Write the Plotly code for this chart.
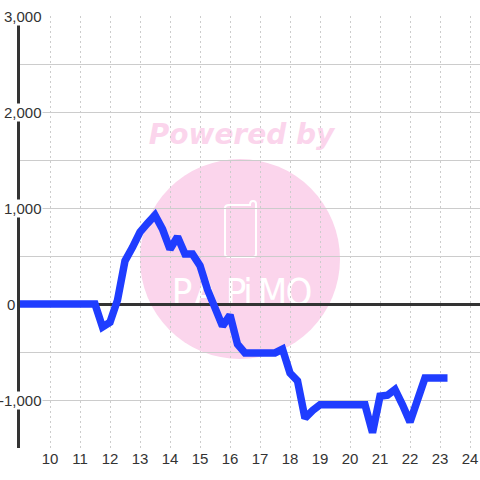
import plotly.graph_objects as go

hours = [9 + i * 0.25 for i in range(58)]
values = [0] * 11 + [
    -240, -190, 40, 450, 590, 750, 840, 925, 780, 570, 700, 520, 520, 400, 150, -60,
    -230, -115, -420, -510, -510, -510, -510, -510, -470, -720, -800, -1190,
    -1110, -1050, -1050, -1050, -1050, -1050, -1050, -1050, -1340, -960, -950, -890,
    -1050, -1230, -1000, -770, -770, -770, -770]
hours = hours[:len(values)]
y_ticks = [3000, 2000, 1000, 0, -1000]
y_labels = ["3,000", "2,000", "1,000", "0", "-1,000"]
x_ticks = list(range(10, 25))

W = H = 480
L, R, T, B = 20, 0, 16, 32
PW, PH = W - L - R, H - T - B


def px(x):
    return (x - L) / PW


def py(y):
    return 1 - (y - T) / PH


PINK = "#fbd5ec"
GREY = "#cccccc"
DARK = "#333333"
FONT = "Liberation Sans"

# watermark glyphs: (letter, left, right)
logo = [("P", 172, 192), ("A", 196, 216), ("P", 226, 246), ("i", 243, 253),
        ("M", 260, 285), ("O", 288, 310)]

shapes = [
    dict(type="circle", xref="paper", yref="paper", layer="below",
         x0=px(140), x1=px(340), y0=py(359), y1=py(159),
         fillcolor=PINK, line=dict(width=0)),
    dict(type="rect", xref="paper", yref="paper", layer="below",
         x0=px(130), x1=px(353), y0=py(150), y1=py(114),
         fillcolor="rgba(0,0,0,0)", line=dict(width=0),
         label=dict(text="<b><i>Powered by</i></b>",
                    font=dict(family="DejaVu Sans", size=28, color=PINK),
                    textposition="middle center")),
    dict(type="path", xref="paper", yref="paper", layer="below",
         path=f"M {px(229)},{py(205)} L {px(250)},{py(205)} Q {px(250)},{py(201)} {px(253)},{py(201)} "
              f"Q {px(256)},{py(201)} {px(256)},{py(204)} L {px(256)},{py(254)} "
              f"Q {px(256)},{py(257)} {px(253)},{py(257)} L {px(229)},{py(257)} "
              f"Q {px(225)},{py(257)} {px(225)},{py(254)} L {px(225)},{py(208)} "
              f"Q {px(225)},{py(205)} {px(229)},{py(205)} Z",
         fillcolor="rgba(0,0,0,0)", line=dict(color="white", width=2)),
]
for letter, x0, x1 in logo:
    shapes.append(dict(
        type="rect", xref="paper", yref="paper", layer="below",
        x0=px(x0), x1=px(x1), y0=py(308), y1=py(270),
        fillcolor="rgba(0,0,0,0)", line=dict(width=0),
        label=dict(text=letter,
                   font=dict(family="DejaVu Sans Condensed", size=38, color="white"),
                   textposition="middle center")))

annotations = []
for v, t in zip(y_ticks, y_labels):
    annotations.append(dict(
        xref="paper", yref="y", x=px(16) if v == 0 else px(43), y=v, text=t,
        showarrow=False, xanchor="right", yanchor="middle",
        bgcolor="rgba(0,0,0,0)" if v == 0 else "white",
        font=dict(family=FONT, size=15, color=DARK),
        borderpad=0))

fig = go.Figure(go.Scatter(
    x=hours, y=values, mode="lines",
    line=dict(color="#1f3dff", width=7.5, shape="linear"),
    hoverinfo="skip"))

fig.update_layout(
    width=W, height=H,
    autosize=False,
    margin=dict(l=L, r=R, t=T, b=B),
    paper_bgcolor="white",
    plot_bgcolor="rgba(0,0,0,0)",
    showlegend=False,
    shapes=shapes,
    annotations=annotations,
    xaxis=dict(range=[9, 9 + PW / 30], tickmode="array", tickvals=x_ticks,
               ticktext=[str(x) for x in x_ticks], showgrid=True,
               gridcolor=GREY, griddash="2px,3px", gridwidth=1,
               zeroline=False, showline=False, ticks="",
               tickfont=dict(family=FONT, size=15, color=DARK)),
    yaxis=dict(range=[-1500, 3000], dtick=500, tick0=0, showgrid=True,
               gridcolor=GREY, gridwidth=1, zeroline=True, zerolinecolor=DARK,
               zerolinewidth=3, showline=True, linecolor=DARK, linewidth=3,
               showticklabels=False, ticks=""),
)
fig.write_html("out.html", config={"displayModeBar": False},
               post_script="document.body.style.margin='0';document.documentElement.style.overflow='hidden';")
